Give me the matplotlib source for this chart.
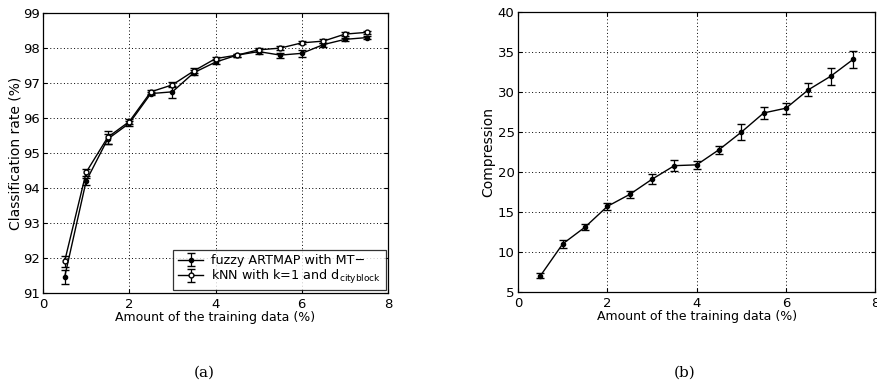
import numpy as np
import matplotlib
matplotlib.use('Agg')
import matplotlib.pyplot as plt

plt.rcParams['font.family'] = 'DejaVu Sans'
plt.rcParams['mathtext.default'] = 'regular'

# training data amount (%)
train_amount = [0.5, 1.0, 1.5, 2.0, 2.5, 3.0, 3.5, 4.0, 4.5, 5.0, 5.5, 6.0, 6.5, 7.0, 7.5]

# (a) classification rate (%)
fam_rate = [91.45, 94.2, 95.4, 95.85, 96.7, 96.75, 97.3, 97.6, 97.8, 97.9, 97.8, 97.85, 98.1, 98.25, 98.3]
fam_err = [0.2, 0.1, 0.15, 0.08, 0.05, 0.17, 0.08, 0.06, 0.04, 0.08, 0.07, 0.1, 0.06, 0.05, 0.05]
knn_rate = [91.9, 94.45, 95.45, 95.9, 96.75, 96.95, 97.35, 97.7, 97.8, 97.95, 98.0, 98.15, 98.2, 98.4, 98.45]
knn_err = [0.15, 0.1, 0.18, 0.06, 0.06, 0.07, 0.07, 0.05, 0.04, 0.05, 0.06, 0.04, 0.05, 0.05, 0.04]

# (b) compression
compression = [7.0, 11.0, 13.1, 15.7, 17.2, 19.1, 20.8, 20.9, 22.8, 25.0, 27.4, 28.0, 30.3, 32.0, 34.1]
compression_err = [0.3, 0.5, 0.4, 0.4, 0.4, 0.6, 0.65, 0.5, 0.5, 1.0, 0.73, 0.67, 0.8, 1.05, 1.07]

fig = plt.figure(figsize=(8.78, 3.86), dpi=100)
ax1 = fig.add_axes([0.049, 0.241, 0.393, 0.725])
ax2 = fig.add_axes([0.590, 0.244, 0.407, 0.724])

ax1.errorbar(train_amount, fam_rate, yerr=fam_err, color='black', lw=1.0,
             marker='.', ms=6, capsize=2.8, elinewidth=0.9,
             label='fuzzy ARTMAP with MT\u2212')
ax1.errorbar(train_amount, knn_rate, yerr=knn_err, color='black', lw=1.0,
             marker='o', ms=3.5, mfc='white', capsize=2.8, elinewidth=0.9,
             label='kNN with k=1 and d$_{\\mathrm{cityblock}}$')
ax1.set_xlim(0, 8)
ax1.set_ylim(91, 99)
ax1.set_xticks([0, 2, 4, 6, 8])
ax1.set_yticks(range(91, 100))
ax1.set_xlabel('Amount of the training data (%)', fontsize=9, labelpad=0)
ax1.set_ylabel('Classification rate (%)', fontsize=10, labelpad=0)
leg = ax1.legend(loc='lower right', fontsize=9.2, frameon=True, fancybox=False,
                 edgecolor='black', handlelength=2.0, handletextpad=0.6,
                 borderpad=0.35, labelspacing=0.05, borderaxespad=0.2)
leg.get_frame().set_linewidth(0.9)

ax2.errorbar(train_amount, compression, yerr=compression_err, color='black', lw=1.0,
             marker='.', ms=6, capsize=2.8, elinewidth=0.9)
ax2.set_xlim(0, 8)
ax2.set_ylim(5, 40)
ax2.set_xticks([0, 2, 4, 6, 8])
ax2.set_yticks(range(5, 41, 5))
ax2.set_xlabel('Amount of the training data (%)', fontsize=9, labelpad=0)
ax2.set_ylabel('Compression', fontsize=10, labelpad=2)

for ax in (ax1, ax2):
    ax.grid(True, color='black', linestyle=(0, (1, 2.5)), linewidth=0.7)
    ax.tick_params(direction='in', labelsize=9.5, length=3,
                   top=True, right=True)
    ax.tick_params(axis='x', pad=3.5)
    ax.tick_params(axis='y', pad=2.5)
    for s in ax.spines.values():
        s.set_linewidth(0.9)

fig.text(0.233, 0.034, '(a)', fontsize=11, family='DejaVu Serif', ha='center', va='center')
fig.text(0.780, 0.034, '(b)', fontsize=11, family='DejaVu Serif', ha='center', va='center')

fig.savefig('out.png', dpi=100)
